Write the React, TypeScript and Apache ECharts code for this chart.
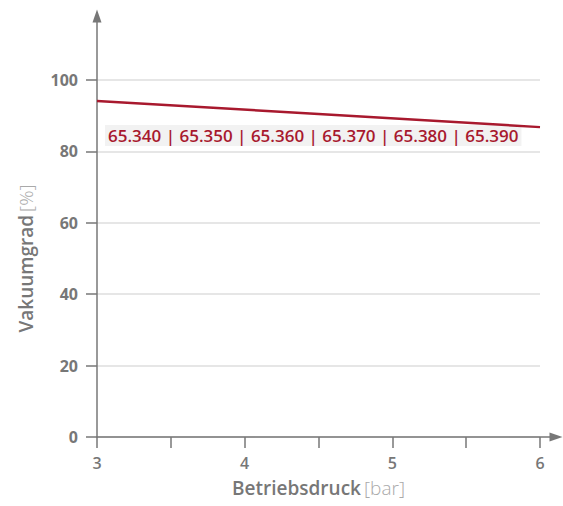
import React, { useEffect, useRef } from "react";
import * as echarts from "echarts";

const pressure = [3, 4.5, 6];
const vacuum = [94.1, 90.5, 86.8];
const annotation = "65.340 | 65.350 | 65.360 | 65.370 | 65.380 | 65.390";
const xName = "Betriebsdruck";
const xUnit = "[bar]";
const yName = "Vakuumgrad";
const yUnit = "[%]";

const RED = "#a8192e";
const GREY = "#777777";
const FONT = '"Open Sans", "Noto Sans", sans-serif';

export default function App() {
  const ref = useRef<HTMLDivElement>(null);
  useEffect(() => {
    if (!ref.current) return;
    document.body.style.margin = "0";
    const chart = echarts.init(ref.current, undefined, { renderer: "svg" });
    chart.setOption({
      animation: false,
      textStyle: { fontFamily: FONT },
      grid: [
        { left: 97, right: 23, top: 80, bottom: 69 },
        { left: 97, right: 7, top: 16, bottom: 69 },
      ],
      xAxis: [
        {
          type: "value",
          gridIndex: 0,
          min: 3,
          max: 6,
          interval: 0.5,
          axisLine: { show: false },
          axisTick: { show: true, length: 11, lineStyle: { color: GREY, width: 1.5 } },
          axisLabel: {
            margin: 18,
            color: GREY,
            fontSize: 16,
            fontWeight: 600,
            fontFamily: FONT,
            formatter: (v: number) => (v % 1 === 0 ? String(v) : ""),
          },
          splitLine: { show: false },
          name: `{a|${xName}} {b|${xUnit}}`,
          nameLocation: "middle",
          nameGap: 41,
          nameTextStyle: {
            rich: {
              a: { fontSize: 19, color: GREY, fontWeight: 600, fontFamily: FONT },
              b: { fontSize: 19, color: "#a9a9a9", fontWeight: 300, fontFamily: FONT },
            },
          },
        },
        {
          type: "value",
          gridIndex: 1,
          min: 0,
          max: 1,
          axisLine: {
            show: true,
            symbol: ["none", "triangle"],
            symbolSize: [9, 13],
            lineStyle: { color: GREY, width: 1.5 },
          },
          axisTick: { show: false },
          axisLabel: { show: false },
          splitLine: { show: false },
        },
      ],
      yAxis: [
        {
          type: "value",
          gridIndex: 0,
          min: 0,
          max: 100,
          interval: 20,
          axisLine: { show: false },
          axisTick: { show: true, length: 11, lineStyle: { color: GREY, width: 1.5 } },
          axisLabel: {
            margin: 19,
            color: GREY,
            fontSize: 16,
            fontWeight: 700,
            fontFamily: FONT,
            padding: [0, 0, 12, 0],
          },
          splitLine: { show: true, lineStyle: { color: "#dedede", width: 1.5 } },
          name: `{a|${yName}} {b|${yUnit}}`,
          nameLocation: "middle",
          nameGap: 62,
          nameTextStyle: {
            rich: {
              a: { fontSize: 19, color: GREY, fontWeight: 600, fontFamily: FONT },
              b: { fontSize: 19, color: "#a9a9a9", fontWeight: 300, fontFamily: FONT },
            },
          },
        },
        {
          type: "value",
          gridIndex: 1,
          min: 0,
          max: 1,
          axisLine: {
            show: true,
            symbol: ["none", "triangle"],
            symbolSize: [9, 13],
            lineStyle: { color: GREY, width: 1.5 },
          },
          axisTick: { show: false },
          axisLabel: { show: false },
          splitLine: { show: false },
        },
      ],
      series: [
        {
          type: "line",
          xAxisIndex: 0,
          yAxisIndex: 0,
          data: pressure.map((p, i) => [p, vacuum[i]]),
          symbol: "none",
          lineStyle: { color: RED, width: 2.5 },
        },
      ],
      graphic: [
        {
          type: "text",
          left: 105,
          top: 125,
          style: {
            text: annotation,
            font: `600 17px ${FONT}`,
            fill: RED,
            backgroundColor: "#f2f2f2",
            padding: [2, 3, 2, 3],
          },
        },
      ],
    });
    return () => chart.dispose();
  }, []);
  return <div ref={ref} style={{ width: 563, height: 506 }} />;
}
